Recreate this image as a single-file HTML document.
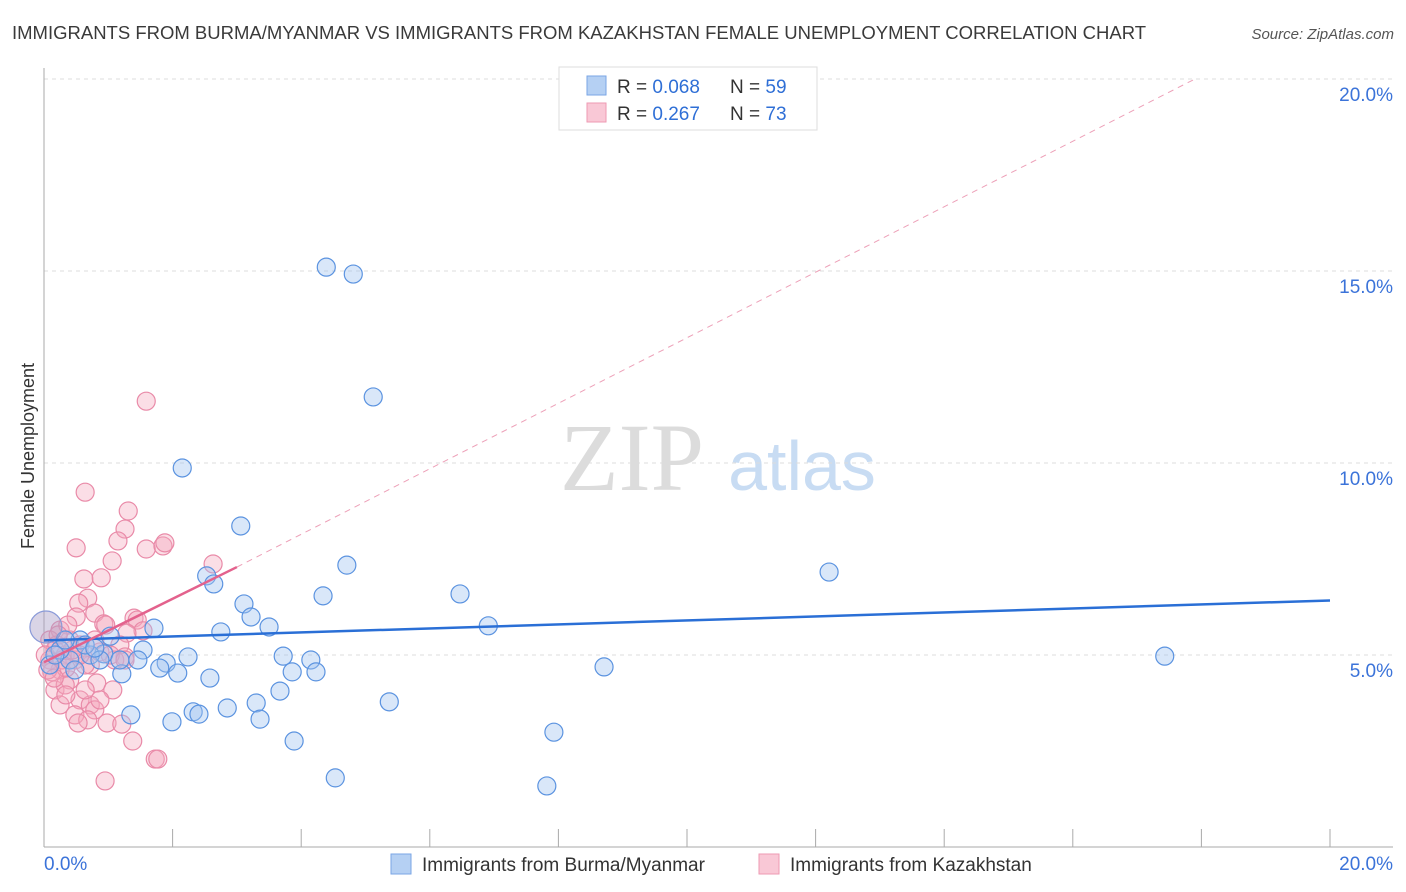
<!DOCTYPE html>
<html><head><meta charset="utf-8"><style>
body{margin:0;background:#fff;font-family:"Liberation Sans",sans-serif;}
svg{display:block}
</style></head><body>
<svg width="1406" height="892" xmlns="http://www.w3.org/2000/svg">
<text x="12" y="39" font-size="18.5" fill="#3a3a3a">IMMIGRANTS FROM BURMA/MYANMAR VS IMMIGRANTS FROM KAZAKHSTAN FEMALE UNEMPLOYMENT CORRELATION CHART</text>
<text x="1394" y="39" font-size="15" fill="#555" font-style="italic" text-anchor="end">Source: ZipAtlas.com</text>
<g>
<text x="632" y="490" font-size="96" font-family="Liberation Serif,serif" fill="#dcdcdc" text-anchor="middle">ZIP</text>
<text x="802" y="490" font-size="70" fill="#c8dcf3" text-anchor="middle">atlas</text>
</g>
<g id="grid"></g>
<g id="axes"></g>
<g id="marks"></g>
<text transform="translate(34,456) rotate(-90)" font-size="18" fill="#333" text-anchor="middle">Female Unemployment</text>
<g>
<rect x="559" y="67" width="258" height="63" fill="#fff" stroke="#ddd"/>
<rect x="587" y="76" width="19" height="19" fill="#b5d0f3" stroke="#7aa6e6"/>
<text x="617" y="93" font-size="19" fill="#333">R = <tspan fill="#2f6fd6">0.068</tspan></text>
<text x="730" y="93" font-size="19" fill="#333">N = <tspan fill="#2f6fd6">59</tspan></text>
<rect x="587" y="103" width="19" height="19" fill="#f9c8d6" stroke="#ee9ab3"/>
<text x="617" y="120" font-size="19" fill="#333">R = <tspan fill="#2f6fd6"> 0.267</tspan></text>
<text x="730" y="120" font-size="19" fill="#333">N = <tspan fill="#2f6fd6">73</tspan></text>
</g>
<g>
<rect x="391" y="854" width="20" height="20" fill="#b5d0f3" stroke="#7aa6e6"/>
<text x="422" y="871" font-size="19" fill="#333">Immigrants from Burma/Myanmar</text>
<rect x="759" y="854" width="20" height="20" fill="#f9c8d6" stroke="#ee9ab3"/>
<text x="790" y="871" font-size="19" fill="#333">Immigrants from Kazakhstan</text>
</g>
</svg>
<script>
const yTicks=[5,10,15,20];
const xTickVals=[0,2,4,6,8,10,12,14,16,18,20];
const xLabels=["0.0%","20.0%"];
const blueX=[4.39,4.81,5.12,2.15,3.06,4.71,12.21,2.53,2.64,4.34,6.47,3.11,3.22,3.50,6.91,1.71,2.75,1.03,1.54,0.93,2.24,3.72,4.15,1.90,1.46,1.80,2.08,3.86,4.23,8.71,17.43,2.58,3.67,3.30,2.85,5.37,1.21,1.35,2.32,2.41,1.99,3.36,3.89,7.93,4.53,7.82,0.40,0.25,0.56,0.72,0.87,0.09,0.33,0.48,0.64,1.18,0.79,0.17];
const blueY=[15.10,14.92,11.72,9.87,8.36,7.34,7.16,7.06,6.85,6.54,6.59,6.33,5.99,5.73,5.76,5.70,5.60,5.49,5.13,5.03,4.95,4.97,4.87,4.79,4.87,4.66,4.53,4.56,4.56,4.69,4.97,4.40,4.06,3.75,3.62,3.78,4.51,3.44,3.52,3.46,3.26,3.33,2.76,2.99,1.80,1.59,4.87,5.13,5.39,5.00,4.87,4.74,5.39,4.61,5.26,4.87,5.18,5.00];
const pinkX=[1.59,0.64,1.31,1.26,1.15,0.50,1.59,1.85,1.88,1.06,2.63,0.62,0.89,0.68,0.54,0.50,0.79,0.93,1.40,1.45,1.54,1.29,0.96,0.25,0.40,0.56,0.17,0.33,0.09,0.48,0.72,0.87,1.18,1.26,1.10,0.25,0.40,0.17,0.33,0.64,0.82,1.07,0.56,0.25,0.48,0.72,0.79,0.68,0.53,0.98,1.21,1.38,1.73,1.77,0.95,0.09,0.02,0.12,0.28,0.37,0.56,0.20,0.44,0.79,0.06,0.22,1.03,0.34,0.64,1.26,0.87,0.34,0.16];
const pinkY=[11.61,9.24,8.75,8.28,7.97,7.79,7.76,7.84,7.92,7.45,7.37,6.98,7.01,6.48,6.35,5.99,6.09,5.81,5.96,5.91,5.63,5.57,5.78,5.65,5.39,5.26,5.13,5.00,4.87,4.87,4.74,5.08,5.26,4.95,4.87,4.61,4.35,4.09,4.22,4.74,4.27,4.09,3.83,3.70,3.44,3.70,3.57,3.31,3.23,3.23,3.20,2.76,2.29,2.29,1.72,5.39,5.00,4.56,4.87,5.78,5.00,5.26,5.13,5.39,4.61,5.52,5.00,3.96,4.09,4.87,3.83,4.66,4.40];
const blueTrend=[[0,5.38],[20,6.42]];
const pinkTrend=[[0,4.81],[3.0,7.29]];
const pinkTrendExt=[[3.0,7.29],[17.9,20.0]];
const NS="http://www.w3.org/2000/svg";
const sx=v=>44+v*64.3, sy=v=>847-v*38.4;
function mk(tag,attrs,parent){const e=document.createElementNS(NS,tag);for(const k in attrs)e.setAttribute(k,attrs[k]);document.getElementById(parent).appendChild(e);return e;}
yTicks.forEach(t=>{
 const g=mk('line',{x1:44,x2:1393,y1:sy(t),y2:sy(t),stroke:'#ddd','stroke-dasharray':'4,4'},'grid');
 
 
 const l=mk('text',{x:1393,y:sy(t)+22,'font-size':19,fill:'#3b73d9','text-anchor':'end'},'grid');
 l.textContent=t.toFixed(1)+'%';
 
 
});
const ya=mk('line',{x1:44,x2:44,y1:68,y2:847,stroke:'#aaa'},'axes');


const xa=mk('line',{x1:44,x2:1393,y1:847,y2:847,stroke:'#aaa'},'axes');


xTickVals.forEach(t=>{
 const k=mk('line',{x1:sx(t),x2:sx(t),y1:829,y2:847,stroke:'#aaa'},'axes');
 
 
});
const xl0=mk('text',{x:44,y:870,'font-size':19,fill:'#3b73d9'},'axes');xl0.textContent=xLabels[0];


const xl1=mk('text',{x:1393,y:870,'font-size':19,fill:'#3b73d9','text-anchor':'end'},'axes');xl1.textContent=xLabels[1];


pinkX.forEach((v,i)=>{
 const c=mk('circle',{cx:sx(v),cy:sy(pinkY[i]),r:9,fill:'rgba(244,168,190,0.38)',stroke:'#e98aa8','stroke-width':1.2},'marks');
 
 
});
blueX.forEach((v,i)=>{
 const c=mk('circle',{cx:sx(v),cy:sy(blueY[i]),r:9,fill:'rgba(160,196,240,0.4)',stroke:'#5b93e0','stroke-width':1.2},'marks');
 
 
});
const big=mk('circle',{cx:sx(0.03),cy:sy(5.73),r:16,fill:'rgba(170,160,200,0.45)',stroke:'#8a9ad8','stroke-width':1.2},'marks');


const bt=mk('line',{x1:sx(blueTrend[0][0]),y1:sy(blueTrend[0][1]),x2:sx(blueTrend[1][0]),y2:sy(blueTrend[1][1]),stroke:'#2a6fd6','stroke-width':2.5},'marks');


const pt=mk('line',{x1:sx(pinkTrend[0][0]),y1:sy(pinkTrend[0][1]),x2:sx(pinkTrend[1][0]),y2:sy(pinkTrend[1][1]),stroke:'#e3628d','stroke-width':2.5},'marks');


const pe=mk('line',{x1:sx(pinkTrendExt[0][0]),y1:sy(pinkTrendExt[0][1]),x2:sx(pinkTrendExt[1][0]),y2:sy(pinkTrendExt[1][1]),stroke:'#eda0b8','stroke-width':1,'stroke-dasharray':'6,5'},'marks');


</script>
</body></html>
